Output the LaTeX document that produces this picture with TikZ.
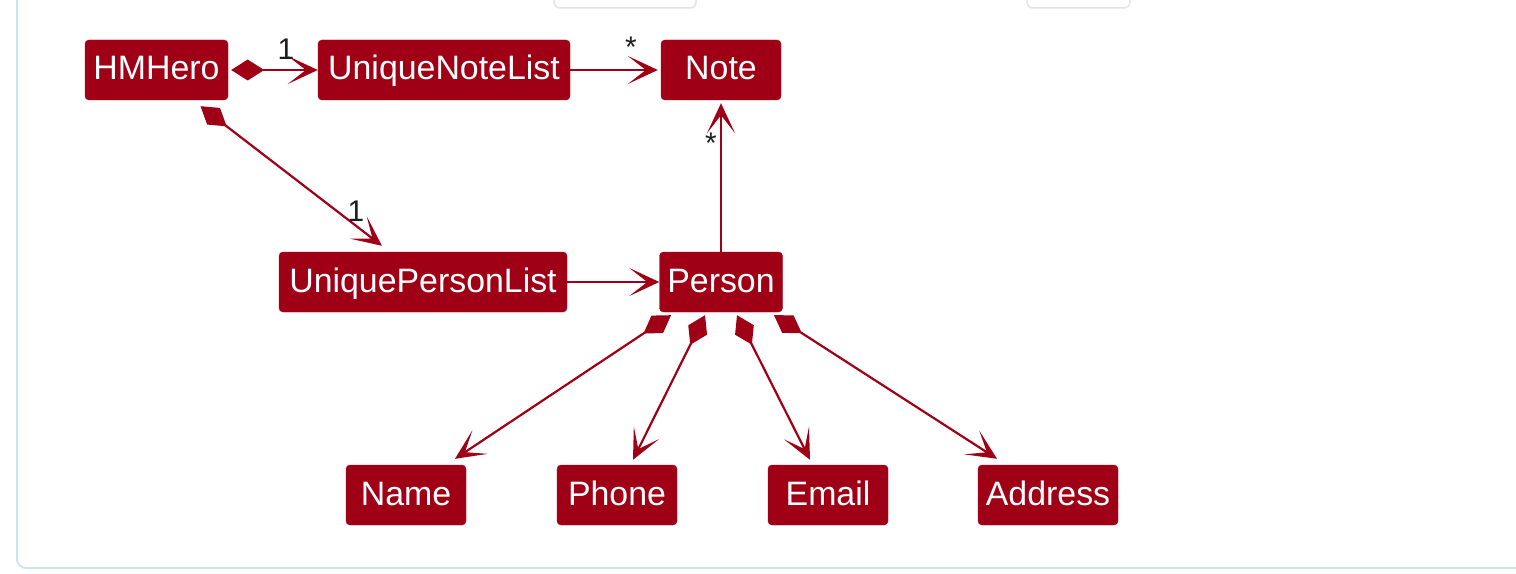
\documentclass[tikz,border=0pt]{standalone}
\usepackage{fontspec}
\setmainfont{Liberation Sans}
\usetikzlibrary{arrows.meta}
\definecolor{umlred}{RGB}{160,0,21}
\definecolor{framecol}{RGB}{205,229,236}
\definecolor{tabgray}{RGB}{226,226,226}
\definecolor{labelcol}{RGB}{30,30,30}
\begin{document}
\begin{tikzpicture}[x=1bp,y=-1bp,
  cls/.style={fill=umlred, draw=umlred, rounded corners=4bp, text=white,
    font=\fontsize{34}{40}\selectfont, minimum height=60bp, inner sep=0pt,
    text height=27bp, text depth=7bp},
  link/.style={draw=umlred, line width=2.2bp,
    -{Stealth[length=30bp,width=28bp,inset=18bp]}},
  comp/.style={draw=umlred, line width=2.2bp,
    {Diamond[length=33bp,width=21bp]}-{Stealth[length=30bp,width=28bp,inset=18bp]}},
  mult/.style={text=labelcol, font=\fontsize{30}{32}\selectfont, inner sep=0pt, anchor=base},
  frame/.style={draw=framecol, line width=2bp, rounded corners=9bp},
  tab/.style={draw=tabgray, line width=1.5bp, rounded corners=6bp}
]
\useasboundingbox (0,0) rectangle (1516,574);
\clip (0,0) rectangle (1516,574);

% surrounding panel
\draw[frame] (17,-30) -- (17,568) -- (1560,568);
% cut-off tabs at the top
\draw[tab] (554,-30) rectangle (696,8);
\draw[tab] (1027,-30) rectangle (1130,8);

% classes
\node[cls, minimum width=143bp] (hm)  at (156.5,70) {HMHero};
\node[cls, minimum width=252bp] (unl) at (444,70) {UniqueNoteList};
\node[cls, minimum width=120bp] (note) at (721,70) {Note};
\node[cls, minimum width=288bp] (upl) at (423,282) {UniquePersonList};
\node[cls, minimum width=123bp] (person) at (721,282) {Person};
\node[cls, minimum width=120bp] (name) at (406,495) {Name};
\node[cls, minimum width=120bp] (phone) at (617,495) {Phone};
\node[cls, minimum width=120bp] (email) at (828,495) {Email};
\node[cls, minimum width=140bp] (addr) at (1048,495) {Address};

% connectors
\draw[comp] ([xshift=3bp]hm.east) -- (unl.west);
\draw[link] (unl.east) -- ([xshift=-3bp]note.west);
\draw[link] (person.north) -- ([yshift=-3bp]note.south);
\draw[comp] ([shift={(44,6)}]hm.south) -- ([shift={(-41,-6)}]upl.north);
\draw[link] (upl.east) -- (person.west);
\draw[comp] ([shift={(-50,3)}]person.south) -- ([shift={(49,-6)}]name.north);
\draw[comp] ([shift={(-16,3)}]person.south) -- ([shift={(16,-5)}]phone.north);
\draw[comp] ([shift={(16,3)}]person.south) -- ([shift={(-18,-5)}]email.north);
\draw[comp] ([shift={(53,3)}]person.south) -- ([shift={(-51,-6)}]addr.north);

% multiplicities
\node[mult] (m1) at (286,60) {1};
\node[mult] (m2) at (631,58) {*};
\node[mult] (m3) at (711,154) {*};
\node[mult] (m4) at (356,222) {1};
\end{tikzpicture}
\end{document}
